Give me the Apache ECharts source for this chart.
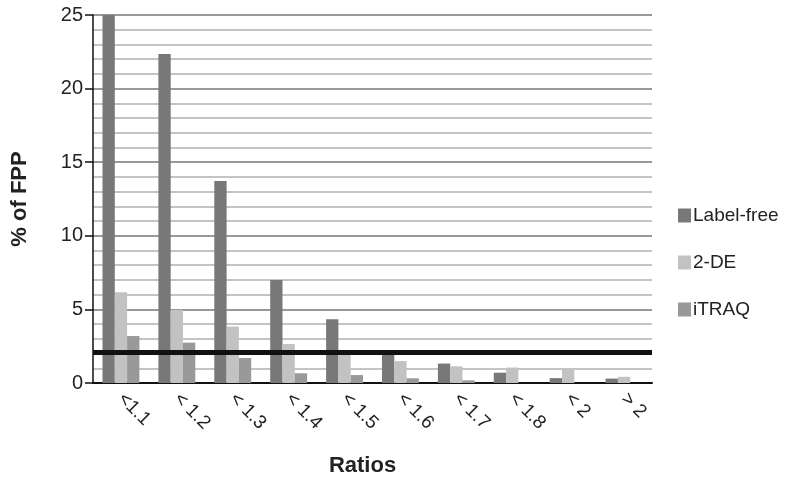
<!DOCTYPE html>
<html>
<head>
<meta charset="utf-8">
<script src="https://cdn.jsdelivr.net/npm/echarts@6/dist/echarts.min.js"></script>
<style>
html,body{margin:0;padding:0;background:#fff;}
#chart{width:800px;height:481px;}
</style>
</head>
<body>
<div id="chart"></div>
<script>
var categories = ['<1.1', '< 1.2', '< 1.3', '< 1.4', '< 1.5', '< 1.6', '< 1.7', '< 1.8', '< 2', '> 2'];
var labelFree = [25, 22.35, 13.72, 7.0, 4.33, 2.02, 1.32, 0.7, 0.33, 0.3];
var twoDE = [6.16, 4.96, 3.83, 2.65, 1.95, 1.49, 1.13, 1.05, 0.95, 0.42];
var itraq = [3.19, 2.74, 1.7, 0.66, 0.54, 0.32, 0.18, 0, 0, 0];
var yTicks = [0, 5, 10, 15, 20, 25];
var thresholdLine = 2.1;

var chart = echarts.init(document.getElementById('chart'), null, {renderer: 'canvas'});
var font = 'Liberation Sans, Arial, sans-serif';
chart.setOption({
  animation: false,
  backgroundColor: '#fff',
  grid: {left: 93, right: 148, top: 15, bottom: 98, containLabel: false, outerBoundsMode: 'none'},
  legend: {
    orient: 'vertical',
    left: 673,
    top: 201,
    itemWidth: 13,
    itemHeight: 14,
    itemGap: 28,
    icon: 'rect',
    textStyle: {fontFamily: font, fontSize: 19, color: '#222', padding: [0, 0, 0, -3]},
    data: ['Label-free', '2-DE', 'iTRAQ']
  },
  xAxis: {
    type: 'category',
    data: categories,
    name: 'Ratios',
    nameLocation: 'middle',
    nameGap: 72,
    nameTextStyle: {fontFamily: font, fontSize: 22, fontWeight: 'bold', color: '#222', padding: [0, 20, 0, 0]},
    axisLine: {lineStyle: {color: '#111', width: 2}},
    axisTick: {show: false},
    axisLabel: {rotate: -45, fontFamily: font, fontSize: 19, color: '#222', margin: 13, interval: 0}
  },
  yAxis: {
    type: 'value',
    min: yTicks[0],
    max: yTicks[yTicks.length - 1],
    interval: 5,
    name: '% of FPP',
    nameLocation: 'middle',
    nameGap: 62,
    nameRotate: 90,
    nameTextStyle: {fontFamily: font, fontSize: 22, fontWeight: 'bold', color: '#222', padding: [0, 0, 0, 0]},
    axisLine: {show: true, lineStyle: {color: '#111', width: 1.5}},
    axisTick: {show: true, length: 8, lineStyle: {color: '#111', width: 1.5}},
    axisLabel: {fontFamily: font, fontSize: 20, color: '#222', margin: 10},
    splitLine: {show: true, lineStyle: {color: '#999', width: 2}},
    minorTick: {show: false, splitNumber: 5},
    minorSplitLine: {show: true, lineStyle: {color: '#c4c4c4', width: 1.8}}
  },
  series: [
    {
      name: 'Label-free', type: 'bar', data: labelFree,
      itemStyle: {color: '#787878'},
      barGap: '0%', barCategoryGap: '34%',
      markLine: {
        silent: true, symbol: ['none', 'none'], label: {show: false},
        lineStyle: {color: '#111', width: 5, type: 'solid'},
        data: [{yAxis: thresholdLine}]
      },
      z: 2
    },
    {
      name: '2-DE', type: 'bar', data: twoDE,
      itemStyle: {color: '#c2c2c2'},
      barGap: '0%', barCategoryGap: '34%'
    },
    {
      name: 'iTRAQ', type: 'bar', data: itraq,
      itemStyle: {color: '#999999'},
      barGap: '0%', barCategoryGap: '34%'
    }
  ]
});
</script>
</body>
</html>
